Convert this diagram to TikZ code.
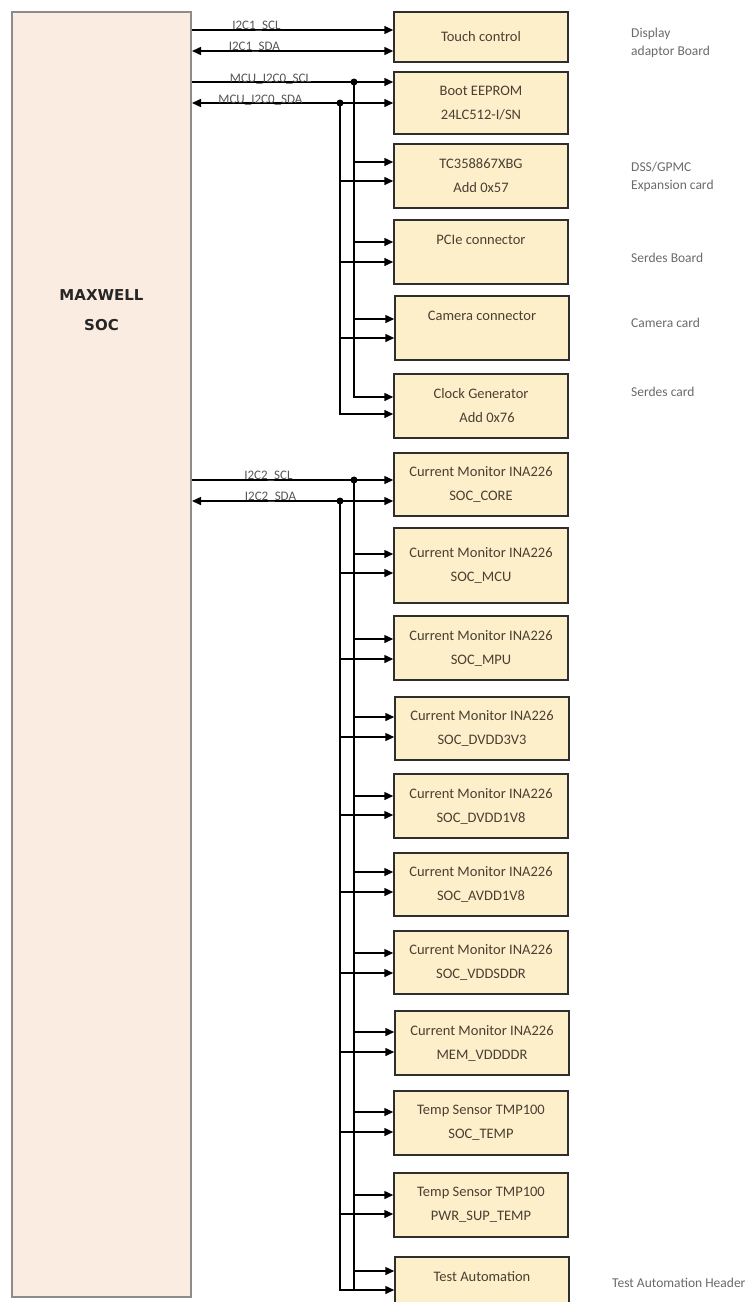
\documentclass[tikz,border=0pt]{standalone}
\usepackage{fontspec}
\setmainfont{Carlito}
\newfontfamily\socfont{DejaVu Sans}
\usepackage{tikz}
\usetikzlibrary{arrows.meta, positioning}
\definecolor{socbg}{HTML}{FBECE1}
\definecolor{socborder}{HTML}{8C8C8C}
\definecolor{devbg}{HTML}{FDEFC9}
\definecolor{devborder}{HTML}{2E2E2E}
\definecolor{devfg}{HTML}{4A3F33}
\definecolor{notefg}{HTML}{6A6A6A}
\definecolor{sigfg}{HTML}{555555}
\tikzstyle{soc} = [rectangle, fill=socbg, draw=socborder, line width=2pt,
  minimum width=179pt, minimum height=1285pt, inner sep=0pt]
\tikzstyle{dev} = [rectangle, fill=devbg, draw=devborder, line width=1.5pt,
  text=devfg, font=\fontsize{14.5}{24}\selectfont, align=center,
  minimum width=174pt, minimum height=63pt, inner sep=2pt]
\tikzstyle{note} = [text=notefg, font=\fontsize{13.5}{18}\selectfont,
  align=left, anchor=west, inner sep=0pt]
\tikzstyle{sig} = [text=sigfg, font=\fontsize{13}{13}\selectfont, inner sep=0pt]
\tikzstyle{arrow} = [-{Triangle[length=9pt,width=8pt]}, line width=1.5pt]
\tikzstyle{bothway} = [{Triangle[length=9pt,width=8pt]}-{Triangle[length=9pt,width=8pt]}, line width=1.5pt]
\tikzstyle{bus} = [line width=1.5pt]
\tikzstyle{junction} = [circle, fill=black, inner sep=0pt, minimum size=7pt]

\begin{document}
\begin{tikzpicture}[x=1pt, y=1pt]

  \useasboundingbox (0,0) rectangle (754,-1302);
  \clip (0,0) rectangle (754,-1302);

  \node[soc] (soc) at (101.5,-654.5) {};
  \node[font=\socfont\bfseries\fontsize{15}{30}\selectfont, text=black!85, align=center]
    (socname) at (101.5,-310) {MAXWELL\\SOC};

  % I2C1 / MCU_I2C0 devices
  \node[dev, minimum height=50pt] (touch) at (481,-37) {Touch control};
  \node[dev, minimum height=62pt] (eeprom) at (481,-103) {Boot EEPROM\\24LC512-I/SN};
  \node[dev, minimum height=64pt] (tc) at (481,-176) {TC358867XBG\\Add 0x57};
  \node[dev, minimum height=64pt] (pcie) at (481,-252) {PCIe connector\\\mbox{}};
  \node[dev, minimum height=64pt] (cam) at (482,-328) {Camera connector\\\mbox{}};
  \node[dev, minimum height=64pt] (clk) at (481,-406) {Clock Generator\\\hspace*{12pt}Add 0x76};

  % I2C2 devices
  \node[dev] (core) at (481,-484.5) {Current Monitor INA226\\SOC\_CORE};
  \node[dev, minimum height=75pt] (mcu) at (481,-565.5) {Current Monitor INA226\\SOC\_MCU};
  \node[dev, minimum height=64pt] (mpu) at (481,-648) {Current Monitor INA226\\SOC\_MPU};
  \node[dev] (dvdd3) at (482,-728.5) {Current Monitor INA226\\SOC\_DVDD3V3};
  \node[dev, minimum height=64pt] (dvdd1) at (481,-806) {Current Monitor INA226\\SOC\_DVDD1V8};
  \node[dev] (avdd) at (481,-884.5) {Current Monitor INA226\\SOC\_AVDD1V8};
  \node[dev] (vdds) at (481,-962.5) {Current Monitor INA226\\SOC\_VDDSDDR};
  \node[dev, minimum height=64pt] (memv) at (482,-1043) {Current Monitor INA226\\MEM\_VDDDDR};
  \node[dev, minimum height=64pt] (stemp) at (481,-1123) {Temp Sensor TMP100\\SOC\_TEMP};
  \node[dev, minimum height=64pt] (ptemp) at (481,-1205) {Temp Sensor TMP100\\PWR\_SUP\_TEMP};
  \node[dev] (tauto) at (482,-1288.5) {Test Automation\\\mbox{}};

  % side notes
  \node[note] (dispnote) at (631,-43) {Display\\adaptor Board};
  \node[note] (dssnote) at (631,-176.5) {DSS/GPMC\\Expansion card};
  \node[note] (serdesboard) at (631,-258) {Serdes Board};
  \node[note] (camnote) at (631,-323) {Camera card};
  \node[note] (serdescard) at (631,-392) {Serdes card};
  \node[note] (tanote) at (612,-1283) {Test Automation Header};

  % I2C1 to touch control
  \draw[arrow] (soc.east |- 0,-30) -- node[sig, above=-2pt, pos=0.32] {I2C1\_SCL} (touch.west |- 0,-30);
  \draw[bothway] (soc.east |- 0,-51) -- node[sig, above=-2pt, pos=0.31] {I2C1\_SDA} (touch.west |- 0,-51);

  % MCU_I2C0 bus
  \draw[arrow] (soc.east |- 0,-82) -- node[sig, above=-3pt, pos=0.39] {MCU\_I2C0\_SCL} (eeprom.west |- 0,-82);
  \draw[bothway] (soc.east |- 0,-103) -- node[sig, above=-3pt, pos=0.34] {MCU\_I2C0\_SDA} (eeprom.west |- 0,-103);
  \node[junction] (mcuscl) at (354,-82) {};
  \node[junction] (mcusda) at (340,-103) {};
  \draw[arrow] (mcuscl.center) |- (clk.west |- 0,-397);
  \draw[arrow] (mcusda.center) |- (clk.west |- 0,-414);
  \foreach \b/\ys/\yd in {tc/162/181, pcie/242/262, cam/319/338} {
    \draw[arrow] (mcuscl |- 0,-\ys) -- (\b.west |- 0,-\ys);
    \draw[arrow] (mcusda |- 0,-\yd) -- (\b.west |- 0,-\yd);
  }

  % I2C2 bus
  \draw[arrow] (soc.east |- 0,-480) -- node[sig, above=-2pt, pos=0.38] {I2C2\_SCL} (core.west |- 0,-480);
  \draw[bothway] (soc.east |- 0,-501) -- node[sig, above=-2pt, pos=0.39] {I2C2\_SDA} (core.west |- 0,-501);
  \node[junction] (i2cscl) at (354,-480) {};
  \node[junction] (i2csda) at (340,-501) {};
  \draw[bus] (i2cscl.center) -- (i2cscl |- 0,-1290);
  \draw[arrow] (i2csda.center) |- (tauto.west |- 0,-1290);
  \draw[arrow] (i2cscl |- 0,-1271) -- (tauto.west |- 0,-1271);
  \foreach \b/\ys/\yd in {mcu/554/573, mpu/639/659, dvdd3/717/737, dvdd1/796/815,
      avdd/872/892, vdds/953/973, memv/1032/1052, stemp/1112/1132, ptemp/1195/1214} {
    \draw[arrow] (i2cscl |- 0,-\ys) -- (\b.west |- 0,-\ys);
    \draw[arrow] (i2csda |- 0,-\yd) -- (\b.west |- 0,-\yd);
  }

\end{tikzpicture}
\end{document}
